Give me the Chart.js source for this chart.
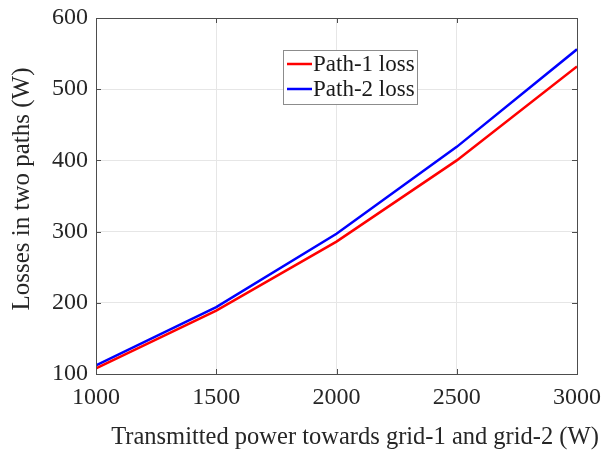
<!DOCTYPE html>
<html>
<head>
<meta charset="utf-8">
<script src="https://cdn.jsdelivr.net/npm/chart.js@4"></script>
<style>
	html, body { margin:0; padding:0; background:#fff; }
	#wrap { width:601px; height:453px; }
</style>
</head>
<body>
<div id="wrap"><canvas id="chart" width="601" height="453"></canvas></div>
<script>
var power = [1000, 1500, 2000, 2500, 3000];
var path1Loss = [108, 189, 286, 400, 532];
var path2Loss = [112, 194, 297, 419, 556];
var xTicks = [1000, 1500, 2000, 2500, 3000];
var yTicks = [100, 200, 300, 400, 500, 600];
var xTitle = 'Transmitted power towards grid-1 and grid-2 (W)';
var yTitle = 'Losses in two paths (W)';

var serif = "'Liberation Serif', 'Times New Roman', serif";

var toPoints = function(xs, ys)
{
	var pts = [];
	for(var i=0;i<xs.length;i++)
		pts.push( {x:xs[i], y:ys[i]} );
	return pts;
};

//	box, inward ticks, axis titles and the legend, drawn the way MATLAB does it
var frame = {
	id:'frame',
	afterDatasetsDraw:function(chart)
	{
		var ctx = chart.ctx;
		var a = chart.chartArea;
		var xs = chart.scales.x, ys = chart.scales.y;
		var tick = 5;

		ctx.save();
		ctx.strokeStyle = '#4d4d4d';
		ctx.lineWidth = 1;
		ctx.beginPath();
		xTicks.forEach(function(v)
		{
			var px = Math.round( xs.getPixelForValue(v) ) + 0.5;
			ctx.moveTo(px, a.bottom); ctx.lineTo(px, a.bottom - tick);
			ctx.moveTo(px, a.top); ctx.lineTo(px, a.top + tick);
		});
		yTicks.forEach(function(v)
		{
			var py = Math.round( ys.getPixelForValue(v) ) + 0.5;
			ctx.moveTo(a.left, py); ctx.lineTo(a.left + tick, py);
			ctx.moveTo(a.right, py); ctx.lineTo(a.right - tick, py);
		});
		ctx.stroke();
		ctx.strokeRect( Math.round(a.left)+0.5, Math.round(a.top)+0.5, Math.round(a.right-a.left), Math.round(a.bottom-a.top) );

		// axis titles
		ctx.fillStyle = '#262626';
		ctx.textAlign = 'center';
		ctx.textBaseline = 'middle';
		ctx.font = '24.5px ' + serif;
		ctx.fillText(xTitle, 355, 438);
		ctx.font = '25px ' + serif;
		ctx.save();
		ctx.translate(22, 189);
		ctx.rotate(-Math.PI/2);
		ctx.fillText(yTitle, 0, 0);
		ctx.restore();

		// legend
		var lx = 283, ly = 50, lw = 134, lh = 54;
		ctx.fillStyle = '#fff';
		ctx.fillRect(lx, ly, lw, lh);
		ctx.strokeStyle = '#8c8c8c';
		ctx.strokeRect(lx+0.5, ly+0.5, lw, lh);
		ctx.font = '23px ' + serif;
		ctx.textAlign = 'left';
		chart.data.datasets.forEach(function(ds, i)
		{
			var y = ly + 14 + i*25;
			ctx.strokeStyle = ds.borderColor;
			ctx.lineWidth = 2.5;
			ctx.beginPath();
			ctx.moveTo(lx + 4, y); ctx.lineTo(lx + 29, y);
			ctx.stroke();
			ctx.fillStyle = '#1a1a1a';
			ctx.fillText(ds.label, lx + 30, y + 1);
		});
		ctx.restore();
	}
};

new Chart
(
	document.getElementById('chart').getContext('2d'),
	{
		type:'line',
		data:{
			datasets:[
				{ label:'Path-1 loss', data:toPoints(power, path1Loss), borderColor:'#ff0000', borderWidth:2.5, pointRadius:0, fill:false, tension:0 },
				{ label:'Path-2 loss', data:toPoints(power, path2Loss), borderColor:'#0000ff', borderWidth:2.5, pointRadius:0, fill:false, tension:0 }
			]
		},
		options:{
			responsive:false,
			animation:false,
			layout:{ padding:{ left:0, top:18, right:24, bottom:0 } },
			plugins:{ legend:{ display:false }, tooltip:{ enabled:false } },
			scales:{
				x:{
					type:'linear', min:1000, max:3000,
					afterBuildTicks:function(s){ s.ticks = xTicks.map(function(v){ return {value:v}; }); },
					afterFit:function(s){ s.height = 79; s.paddingLeft = 0; s.paddingRight = 0; },
					grid:{ color:'#e6e6e6', drawTicks:false },
					border:{ display:false },
					ticks:{ color:'#262626', padding:9, maxRotation:0, font:{ family:serif, size:24 }, callback:function(v){ return String(v); } }
				},
				y:{
					min:100, max:600,
					afterBuildTicks:function(s){ s.ticks = yTicks.map(function(v){ return {value:v}; }); },
					afterFit:function(s){ s.width = 96; s.paddingTop = 0; s.paddingBottom = 0; },
					grid:{ color:'#e6e6e6', drawTicks:false },
					border:{ display:false },
					ticks:{ color:'#262626', padding:8, font:{ family:serif, size:24 }, callback:function(v){ return String(v); } }
				}
			}
		},
		plugins:[frame]
	}
);
</script>
</body>
</html>
